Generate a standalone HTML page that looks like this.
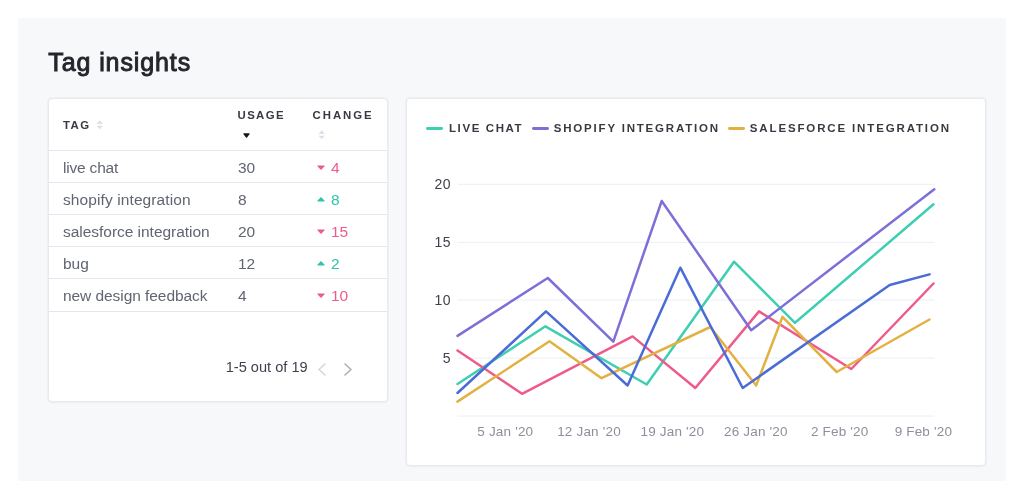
<!DOCTYPE html>
<html><head><meta charset="utf-8"><title>Tag insights</title>
<style>
*{box-sizing:border-box;margin:0;padding:0}
html,body{width:1024px;height:499px;overflow:hidden;background:#fff;font-family:"Liberation Sans",sans-serif;}
.panel{position:absolute;left:17.5px;top:17.7px;width:988.5px;height:463.1px;background:#f7f8fa;}
h1{position:absolute;left:48.3px;top:46px;font-size:25px;font-weight:normal;-webkit-text-stroke:0.95px #25262b;color:#25262b;letter-spacing:0.9px;line-height:32px;white-space:nowrap}
.card{position:absolute;background:#fff;border:1px solid #e8eaf0;border-radius:4px;box-shadow:0 0 0 1px rgba(228,231,238,0.42),0 1px 2px rgba(40,50,80,0.03)}
#tcard{left:48px;top:98px;width:340px;height:304px}
#ccard{left:406px;top:98px;width:580px;height:368px}
.th{position:absolute;font-size:11.4px;font-weight:bold;color:#383a42;white-space:nowrap;line-height:12px}
.row{position:absolute;left:0;width:338px;height:32px;border-top:1px solid #e3e6ee;font-size:15.5px;color:#60656f;line-height:32px;white-space:nowrap}
.row span{position:absolute;top:1.4px}
.c1{left:14px}.c2{left:189px}.c3{left:282px}
.dn{color:#ee5b8a}.up{color:#2ec4a6}
.row svg{position:absolute;left:268px}
.pg{position:absolute;font-size:14.6px;color:#3f424c;white-space:nowrap;line-height:16px}
.lg{position:absolute;font-size:11.5px;font-weight:bold;color:#383a42;white-space:nowrap;line-height:12px;top:22.6px}
.ll{position:absolute;height:2.8px;top:27.8px;width:17px;border-radius:1.4px}
</style></head><body>
<div id="wrap" style="position:absolute;left:0;top:0;width:1024px;height:499px;filter:blur(0.45px)">
<div class="panel"></div>
<h1 id="title">Tag insights</h1>
<div class="card" id="tcard">
  <div class="th" id="th1" style="left:14px;top:19.9px;letter-spacing:1.45px">TAG</div><svg id="si1" width="7.4" height="9.6" viewBox="0 0 7 9.6" preserveAspectRatio="none" style="position:absolute;left:47px;top:21.3px"><path d="M3.5 0.3L6.6 3.9H0.4z M3.5 9.3L6.6 5.7H0.4z" fill="#dde0e9"/></svg>
  <div class="th" id="th2" style="left:188.5px;top:10px;letter-spacing:1.4px">USAGE</div><svg id="si2" width="7" height="5" viewBox="0 0 7 5" style="position:absolute;left:193.7px;top:33.8px"><path d="M0.9 0.3h5.2a0.5 0.5 0 0 1 0.4 0.85L4 4.4a0.65 0.65 0 0 1-1 0L0.5 1.15A0.5 0.5 0 0 1 0.9 0.3z" fill="#15161a"/></svg>
  <div class="th" id="th3" style="left:263.6px;top:10px;letter-spacing:1.94px">CHANGE</div><svg id="si3" width="7.4" height="9.6" viewBox="0 0 7 9.6" preserveAspectRatio="none" style="position:absolute;left:269.1px;top:31.2px"><path d="M3.5 0.3L6.6 3.9H0.4z M3.5 9.3L6.6 5.7H0.4z" fill="#dde0e9"/></svg>
  <div class="row" style="top:51px"><span class="c1" id="r1" style="letter-spacing:-0.19px">live chat</span><span class="c2" id="u1">30</span><svg width="8" height="5" viewBox="0 0 8 5" style="top:14.4px"><path d="M1 0.4h6a0.6 0.6 0 0 1 0.45 1L4.5 4.6a0.65 0.65 0 0 1-1 0L0.55 1.4A0.6 0.6 0 0 1 1 0.4z" fill="#ee5b8a"/></svg><span class="c3 dn" id="v1">4</span></div>
  <div class="row" style="top:83px"><span class="c1" id="r2" style="letter-spacing:0.1px">shopify integration</span><span class="c2" id="u2">8</span><svg width="8" height="5" viewBox="0 0 8 5" style="top:14.4px"><path d="M1 4.6h6a0.6 0.6 0 0 0 0.45-1L4.5 0.4a0.65 0.65 0 0 0-1 0L0.55 3.6A0.6 0.6 0 0 0 1 4.6z" fill="#2ec4a6"/></svg><span class="c3 up" id="v2">8</span></div>
  <div class="row" style="top:115px"><span class="c1" id="r3" style="letter-spacing:-0.03px">salesforce integration</span><span class="c2" id="u3">20</span><svg width="8" height="5" viewBox="0 0 8 5" style="top:14.4px"><path d="M1 0.4h6a0.6 0.6 0 0 1 0.45 1L4.5 4.6a0.65 0.65 0 0 1-1 0L0.55 1.4A0.6 0.6 0 0 1 1 0.4z" fill="#ee5b8a"/></svg><span class="c3 dn" id="v3">15</span></div>
  <div class="row" style="top:147px"><span class="c1" id="r4">bug</span><span class="c2" id="u4">12</span><svg width="8" height="5" viewBox="0 0 8 5" style="top:14.4px"><path d="M1 4.6h6a0.6 0.6 0 0 0 0.45-1L4.5 0.4a0.65 0.65 0 0 0-1 0L0.55 3.6A0.6 0.6 0 0 0 1 4.6z" fill="#2ec4a6"/></svg><span class="c3 up" id="v4">2</span></div>
  <div class="row" style="top:179px"><span class="c1" id="r5" style="letter-spacing:-0.06px">new design feedback</span><span class="c2" id="u5">4</span><svg width="8" height="5" viewBox="0 0 8 5" style="top:14.4px"><path d="M1 0.4h6a0.6 0.6 0 0 1 0.45 1L4.5 4.6a0.65 0.65 0 0 1-1 0L0.55 1.4A0.6 0.6 0 0 1 1 0.4z" fill="#ee5b8a"/></svg><span class="c3 dn" id="v5">10</span></div>
  <div class="row" style="top:212px;height:1px"></div>
  <div class="pg" id="pg" style="left:176.7px;top:260px">1-5 out of 19</div>
  <svg id="pl" width="10" height="13" viewBox="0 0 10 13" style="position:absolute;left:267.5px;top:264px"><path d="M8 1L2 6.5L8 12" fill="none" stroke="#d3d5dc" stroke-width="1.5" stroke-linecap="round" stroke-linejoin="round"/></svg>
  <svg id="pr" width="10" height="13" viewBox="0 0 10 13" style="position:absolute;left:294px;top:264px"><path d="M2 1L8 6.5L2 12" fill="none" stroke="#a9adb8" stroke-width="1.5" stroke-linecap="round" stroke-linejoin="round"/></svg>
</div>
<div class="card" id="ccard">
  <div class="ll" style="left:19.4px;background:#3ecfb2"></div><div class="lg" id="lg1" style="left:42px;letter-spacing:1.6px">LIVE CHAT</div>
  <div class="ll" style="left:124.8px;background:#7c70d8"></div><div class="lg" id="lg2" style="left:146.8px;letter-spacing:1.8px">SHOPIFY INTEGRATION</div>
  <div class="ll" style="left:321px;background:#e2b141"></div><div class="lg" id="lg3" style="left:342.8px;letter-spacing:1.86px">SALESFORCE INTEGRATION</div>
</div>
<svg id="chart" font-family="Liberation Sans, sans-serif" width="1024" height="499" viewBox="0 0 1024 499" style="position:absolute;left:0;top:0;pointer-events:none">
<line x1="457.5" x2="934.3" y1="184.3" y2="184.3" stroke="#eceef3" stroke-width="1"/>
<text x="450.9" y="189.1" text-anchor="end" font-size="14" letter-spacing="0.45" fill="#3f424c">20</text>
<line x1="457.5" x2="934.3" y1="242.3" y2="242.3" stroke="#eceef3" stroke-width="1"/>
<text x="450.9" y="247.1" text-anchor="end" font-size="14" letter-spacing="0.45" fill="#3f424c">15</text>
<line x1="457.5" x2="934.3" y1="300" y2="300" stroke="#eceef3" stroke-width="1"/>
<text x="450.9" y="304.8" text-anchor="end" font-size="14" letter-spacing="0.45" fill="#3f424c">10</text>
<line x1="457.5" x2="934.3" y1="358" y2="358" stroke="#eceef3" stroke-width="1"/>
<text x="450.9" y="362.8" text-anchor="end" font-size="14" letter-spacing="0.45" fill="#3f424c">5</text>
<line x1="457.5" x2="934.3" y1="416" y2="416" stroke="#eceef3" stroke-width="1"/>
<polyline fill="none" stroke="#3ecfb2" stroke-width="2.5" stroke-linejoin="round" stroke-linecap="round" points="457.5,384 545.4,326.3 646.7,384.5 734,261.7 795,322.8 933.5,204.3"/>
<polyline fill="none" stroke="#ee5b8a" stroke-width="2.5" stroke-linejoin="round" stroke-linecap="round" points="457.5,350.5 522,393.8 632.6,336.4 695.3,388 759,311.4 851.3,369 933.5,283.5"/>
<polyline fill="none" stroke="#e2b141" stroke-width="2.5" stroke-linejoin="round" stroke-linecap="round" points="457.5,401.6 549.5,341.3 601.5,378.2 710.3,327 756.2,385.4 782.5,316.8 836.7,372 929.5,319.5"/>
<polyline fill="none" stroke="#7c70d8" stroke-width="2.5" stroke-linejoin="round" stroke-linecap="round" points="457.5,335.9 547.8,278 613.3,341.7 661.7,201 751.2,330.3 934.3,189.2"/>
<polyline fill="none" stroke="#4b6bd6" stroke-width="2.5" stroke-linejoin="round" stroke-linecap="round" points="457.5,393 546,311.3 627.6,385.5 680.3,267.7 742.7,388 889.7,285 929.5,274.4"/>
<text x="505.3" y="436" text-anchor="middle" font-size="13.5" letter-spacing="0.18" fill="#8b909c">5 Jan '20</text>
<text x="589" y="436" text-anchor="middle" font-size="13.5" letter-spacing="0.18" fill="#8b909c">12 Jan '20</text>
<text x="672.4" y="436" text-anchor="middle" font-size="13.5" letter-spacing="0.18" fill="#8b909c">19 Jan '20</text>
<text x="755.8" y="436" text-anchor="middle" font-size="13.5" letter-spacing="0.18" fill="#8b909c">26 Jan '20</text>
<text x="839.7" y="436" text-anchor="middle" font-size="13.5" letter-spacing="0.18" fill="#8b909c">2 Feb '20</text>
<text x="923.4" y="436" text-anchor="middle" font-size="13.5" letter-spacing="0.18" fill="#8b909c">9 Feb '20</text>
</svg>
</div>
</body></html>
